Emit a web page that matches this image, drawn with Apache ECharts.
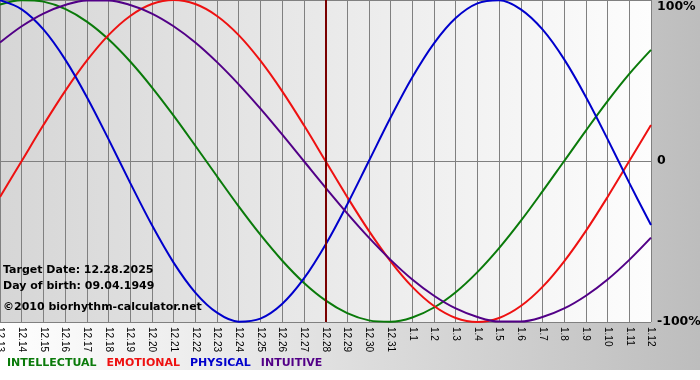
<!DOCTYPE html>
<html>
<head>
<meta charset="utf-8">
<script src="https://cdn.jsdelivr.net/npm/echarts@6/dist/echarts.min.js"></script>
<style>html,body{margin:0;padding:0;background:#fff}#c{width:700px;height:380px}</style>
</head>
<body>
<div id="c"></div>
<script>
const dates = ['12.13','12.14','12.15','12.16','12.17','12.18','12.19','12.20','12.21','12.22','12.23','12.24','12.25','12.26','12.27','12.28','12.29','12.30','12.31','1.1','1.2','1.3','1.4','1.5','1.6','1.7','1.8','1.9','1.10','1.11','1.12'];
const intellectual = [0.972,0.999,0.990,0.945,0.866,0.756,0.618,0.458,0.282,0.095,-0.095,-0.282,-0.458,-0.618,-0.756,-0.866,-0.945,-0.990,-0.999,-0.972,-0.910,-0.815,-0.690,-0.541,-0.372,-0.189,0.000,0.189,0.372,0.541,0.690];
const emotional = [-0.223,0.000,0.223,0.434,0.623,0.782,0.901,0.975,1.000,0.975,0.901,0.782,0.623,0.434,0.223,0.000,-0.223,-0.434,-0.623,-0.782,-0.901,-0.975,-1.000,-0.975,-0.901,-0.782,-0.623,-0.434,-0.223,0.000,0.223];
const physical = [0.998,0.942,0.817,0.631,0.398,0.136,-0.136,-0.398,-0.631,-0.817,-0.942,-0.998,-0.979,-0.888,-0.731,-0.520,-0.270,0.000,0.270,0.520,0.731,0.888,0.979,0.998,0.942,0.817,0.631,0.398,0.136,-0.136,-0.398];
const intuitive = [0.736,0.837,0.916,0.969,0.997,0.997,0.969,0.916,0.837,0.736,0.614,0.476,0.325,0.165,0.000,-0.165,-0.325,-0.476,-0.614,-0.736,-0.837,-0.916,-0.969,-0.997,-0.997,-0.969,-0.916,-0.837,-0.736,-0.614,-0.476];
const yTicks = [-1, 0, 1];
const targetDate = '12.28';
const infoLines = ['Target Date: 12.28.2025', 'Day of birth: 09.04.1949', '\u00A92010 biorhythm-calculator.net'];
const seriesNames = ['INTELLECTUAL', 'EMOTIONAL', 'PHYSICAL', 'INTUITIVE'];
const seriesColors = ['#0a7a0a', '#ee1111', '#0000cc', '#520087'];
const seriesData = [intellectual, emotional, physical, intuitive];

const chart = echarts.init(document.getElementById('c'), null, {renderer: 'canvas'});
const boldFont = '"DejaVu Sans", Verdana, sans-serif';

const series = seriesNames.map((n, i) => ({
  name: n,
  type: 'line',
  data: seriesData[i],
  smooth: 0.35,
  symbol: 'none',
  lineStyle: {color: seriesColors[i], width: 2},
  itemStyle: {color: seriesColors[i]},
  z: 3 + i,
  markLine: i === 0 ? {
    silent: true,
    symbol: 'none',
    label: {show: false},
    lineStyle: {color: '#7a0000', width: 2, type: 'solid'},
    data: [{xAxis: targetDate}],
    z: 10
  } : undefined
}));

chart.setOption({
  animation: false,
  backgroundColor: '#ffffff',
  graphic: [
    {type: 'rect', shape: {x: 0, y: 0, width: 700, height: 370}, z: -100, silent: true,
      style: {fill: new echarts.graphic.LinearGradient(0, 0, 1, 0, [{offset: 0, color: '#ffffff'}, {offset: 1, color: '#bdbdbd'}])}},
    ...infoLines.map((t, i) => ({
      type: 'text', left: 3, top: [265, 281, 302][i], z: 50, silent: true,
      style: {text: t, fill: '#000', font: 'bold 11px ' + boldFont}
    }))
  ],
  grid: {
    left: 0, right: 49, top: 0, bottom: 58,
    outerBoundsMode: 'none',
    containLabel: false,
    show: true,
    borderWidth: 0,
    backgroundColor: {type: 'linear', x: 0, y: 0, x2: 1, y2: 0,
      colorStops: [{offset: 0, color: '#d6d6d6'}, {offset: 1, color: '#fdfdfd'}]}
  },
  legend: {
    left: -3, top: 353,
    icon: 'none', itemWidth: 0, itemHeight: 0, itemGap: 5,
    selectedMode: false,
    textStyle: {fontFamily: boldFont, fontWeight: 'bold', fontSize: 11},
    data: seriesNames.map((n, i) => ({name: n, textStyle: {color: seriesColors[i]}}))
  },
  xAxis: {
    type: 'category',
    data: dates,
    boundaryGap: false,
    axisLine: {show: true, lineStyle: {color: '#808080', width: 1}},
    axisTick: {show: true, length: 4, interval: 0, lineStyle: {color: '#808080'}},
    axisLabel: {interval: 0, rotate: -90, margin: 5, color: '#000', fontSize: 10, fontFamily: '"Liberation Sans", Arial, sans-serif'},
    splitLine: {show: true, interval: 0, lineStyle: {color: '#808080', width: 1}}
  },
  yAxis: {
    type: 'value',
    position: 'right',
    min: yTicks[0], max: yTicks[yTicks.length - 1], interval: 1,
    axisLine: {show: false},
    axisTick: {show: false},
    splitLine: {show: true, lineStyle: {color: '#808080', width: 1}},
    axisLabel: {
      margin: 6, color: '#000', fontSize: 12.5, fontWeight: 'bold', fontFamily: boldFont,
      formatter: v => v === 1 ? '{top|100%}' : (v === 0 ? '0' : (v * 100) + '%'),
      rich: {top: {fontSize: 12.5, fontWeight: 'bold', fontFamily: boldFont, color: '#000', padding: [14, 0, 0, 0]}}
    }
  },
  series: series
});
</script>
</body>
</html>
